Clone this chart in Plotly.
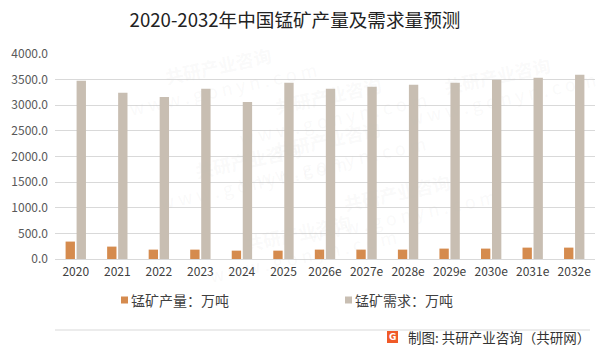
import plotly.graph_objects as go

categories = ["2020", "2021", "2022", "2023", "2024", "2025", "2026e", "2027e",
              "2028e", "2029e", "2030e", "2031e", "2032e"]
production = [340, 242, 183, 183, 163, 163, 183, 183, 183, 203, 203, 222, 222]
demand = [3477, 3242, 3163, 3320, 3065, 3438, 3320, 3360, 3399, 3438, 3497, 3536, 3595]
y_ticks = [0, 500, 1000, 1500, 2000, 2500, 3000, 3500, 4000]

prod_name = "锰矿产量：万吨"
demand_name = "锰矿需求：万吨"
c_prod = "#D58B4E"
c_dem = "#C8BEB2"
font_cjk = "Noto Sans CJK SC, Microsoft YaHei, sans-serif"

fig = go.Figure()
fig.add_trace(go.Bar(x=categories, y=production, name=prod_name,
                     marker=dict(color=c_prod, line=dict(width=0)), showlegend=False))
fig.add_trace(go.Bar(x=categories, y=demand, name=demand_name,
                     marker=dict(color=c_dem, line=dict(width=0)), showlegend=False))

W, H = 602, 346
L, R, T, B = 55, 7, 54, 87
fig.update_layout(
    width=W, height=H,
    margin=dict(l=L, r=R, t=T, b=B),
    paper_bgcolor="white", plot_bgcolor="white",
    barmode="group", bargap=0.47, bargroupgap=0.15,
    font=dict(family=font_cjk, color="#595959", size=12),
    title=dict(text="2020-2032年中国锰矿产量及需求量预测", x=0.49, xanchor="center",
               y=0.942, yanchor="middle",
               font=dict(family=font_cjk, size=18.6, color="#222222", weight=400)),
    xaxis=dict(showgrid=False, showline=False, ticks="", tickfont=dict(size=12, color="#404040"),
               ticklabelstandoff=4),
    yaxis=dict(range=[0, 4000], tickvals=y_ticks, tickformat=".1f",
               showgrid=True, gridcolor="#D9D9D9", gridwidth=1,
               zeroline=True, zerolinecolor="#D9D9D9", zerolinewidth=1,
               showline=False, ticks="", tickfont=dict(size=12, color="#595959"),
               ticklabelstandoff=6),
    showlegend=False,
)

def px_x(x):
    return (x - L) / (W - L - R)

def px_y(y):
    return (H - B - y) / (H - T - B)

# manual legend
legend_items = [(121, prod_name, c_prod), (345, demand_name, c_dem)]
for x0, txt, col in legend_items:
    fig.add_shape(type="rect", xref="paper", yref="paper",
                  x0=px_x(x0), x1=px_x(x0 + 7),
                  y0=px_y(303.5), y1=px_y(296.5),
                  fillcolor=col, line=dict(width=0))
    fig.add_annotation(xref="paper", yref="paper", x=px_x(x0 + 8), y=px_y(300),
                       xanchor="left", yanchor="middle", showarrow=False,
                       text=txt, font=dict(family=font_cjk, size=14, color="#404040"))

# separator line
fig.add_shape(type="line", xref="paper", yref="paper",
              x0=px_x(55), x1=px_x(590), y0=px_y(330), y1=px_y(330),
              line=dict(color="#D9D9D9", width=1))

# footer logo + text
fig.add_shape(type="rect", xref="paper", yref="paper",
              x0=px_x(387), x1=px_x(398), y0=px_y(343), y1=px_y(331),
              fillcolor="#F05A28", line=dict(width=0))
fig.add_annotation(xref="paper", yref="paper", x=px_x(392.5), y=px_y(337),
                   xanchor="center", yanchor="middle", showarrow=False,
                   text="<b>G</b>", font=dict(family="DejaVu Sans", size=9, color="white"))
fig.add_annotation(xref="paper", yref="paper", x=px_x(406), y=px_y(337),
                   xanchor="left", yanchor="middle", showarrow=False,
                   text="制图: 共研产业咨询（共研网）",
                   font=dict(family=font_cjk, size=13.5, color="#333333"))

# faint watermarks
wm = [(120, 30), (330, 60), (150, 170), (430, 150), (200, 290), (500, 250), (600, 40)]
for (x, y) in wm:
    fig.add_annotation(xref="paper", yref="paper", x=px_x(x), y=px_y(y),
                       showarrow=False, textangle=-12,
                       text="<b>共研产业咨询</b><br>w w w . g o n y n . c o m",
                       font=dict(family=font_cjk, size=18, color="rgba(190,190,190,0.08)"))

fig.write_html("out.html")
